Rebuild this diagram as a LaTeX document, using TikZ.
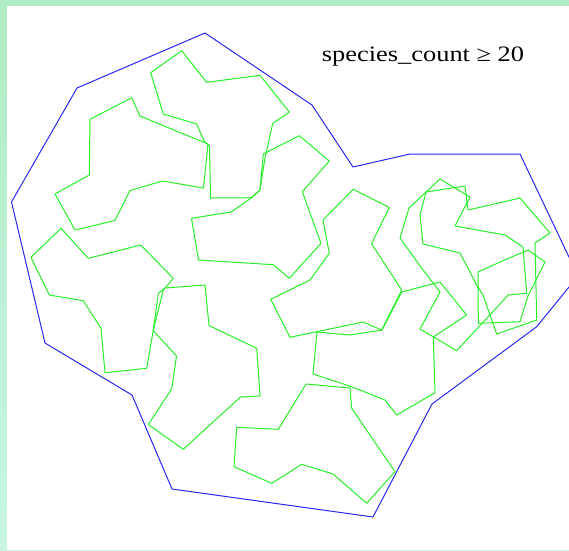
\documentclass[tikz,border=0pt]{standalone}
\usepackage{fontspec}
\setmainfont{Liberation Serif}
\definecolor{bandtop}{RGB}{176,236,196}
\definecolor{bandbot}{RGB}{200,246,226}
\definecolor{hullblue}{RGB}{40,40,240}
\definecolor{cellgreen}{RGB}{40,240,40}
\tikzset{
  hull/.style={draw=hullblue, line width=1pt, line join=round},
  cell/.style={draw=cellgreen, line width=1pt, line join=round}
}
\begin{document}
\begin{tikzpicture}[x=1pt, y=-1pt]
\useasboundingbox (0,0) rectangle (569,550);
\clip (0,0) rectangle (569,550);
\shade[top color=bandtop, bottom color=bandbot] (0,0) rectangle (569,550);
\fill[white] (7,6) rectangle (569,550);
\draw[hull] (205,33) -- (312,105) -- (353,167) -- (410,154) -- (520,154) -- (578,276) -- (536.7,326.7) -- (432,404) -- (373,517) -- (172,489) -- (132,395) -- (45,343) -- (11.5,202) -- (77,88) -- cycle;
\draw[cell] (131.7,97.7) -- (140,116) -- (208,144) -- (203.5,188) -- (162.5,181) -- (130,190.5) -- (115,220.5) -- (75,230) -- (55,194) -- (89.3,175) -- (90,119.3) -- cycle;
\draw[cell] (150.7,72.7) -- (181.7,50.7) -- (206.7,82.3) -- (260,75.3) -- (289.3,112) -- (272.7,123.5) -- (265,158) -- (260,190) -- (251.7,197.7) -- (210.5,198) -- (209.5,146) -- (204,141) -- (196.7,124) -- (163.3,114) -- cycle;
\draw[cell] (263.3,154) -- (299.3,135.7) -- (329.3,161) -- (302.3,191.7) -- (321,243.3) -- (289.3,278.3) -- (273.3,264.7) -- (198.5,260) -- (191.5,218.3) -- (231,212) -- (251.7,197.7) -- (260,190) -- cycle;
\draw[cell] (353.3,189.3) -- (389.3,207.5) -- (371.5,243.7) -- (401.7,290) -- (381.7,330) -- (363.3,322) -- (321.7,330.7) -- (290,337.3) -- (270.7,299.3) -- (310,280) -- (329.3,253.3) -- (323,220) -- cycle;
\draw[cell] (61,228.3) -- (88.3,258.3) -- (140.7,245) -- (173.3,278.3) -- (163.3,290) -- (153.3,330) -- (146.7,368.3) -- (105,372.7) -- (101,328.3) -- (83.3,300.7) -- (49.3,295) -- (31,257.3) -- cycle;
\draw[cell] (158.3,293.3) -- (165,288) -- (205,285) -- (209,325.5) -- (256.7,348.3) -- (260,396) -- (240.5,397) -- (183.3,449.3) -- (148.3,424.5) -- (171.7,389) -- (176.5,356) -- (153.3,330.7) -- cycle;
\draw[cell] (306,384) -- (350,388) -- (351.7,408.3) -- (395,471.7) -- (366.7,503.3) -- (333,474) -- (301.7,464.3) -- (271.7,483.3) -- (234,466.7) -- (236.7,427.3) -- (278.3,429.3) -- cycle;
\draw[cell] (317,332) -- (350,335) -- (382,330) -- (401.7,292) -- (440,282) -- (466.7,315) -- (433.3,337) -- (435,392.7) -- (396.7,415) -- (385,400) -- (351.7,386.7) -- (313,374) -- cycle;
\draw[cell] (426,192) -- (465,186) -- (468,210) -- (503,202) -- (520,198) -- (550,233) -- (535,243) -- (536.7,320) -- (496.7,334) -- (483,295) -- (476.7,285) -- (460,253) -- (423,244) -- (420,215) -- cycle;
\draw[cell] (440,179) -- (470,197) -- (455,226) -- (505,235) -- (523,247) -- (526.7,293.3) -- (508.3,295) -- (456.7,350.7) -- (420,329) -- (440,292) -- (423,270) -- (400,238) -- (409,208) -- cycle;
\draw[cell] (478,272) -- (478.3,323.3) -- (520,321.7) -- (528,296) -- (545,262) -- (528,250) -- (500,262) -- cycle;
\node[anchor=base west, font=\fontsize{22}{26}\selectfont, xscale=1.2, inner sep=0pt] (title) at (321.7,61.7) {species\_count ≥ 20};
\end{tikzpicture}
\end{document}
